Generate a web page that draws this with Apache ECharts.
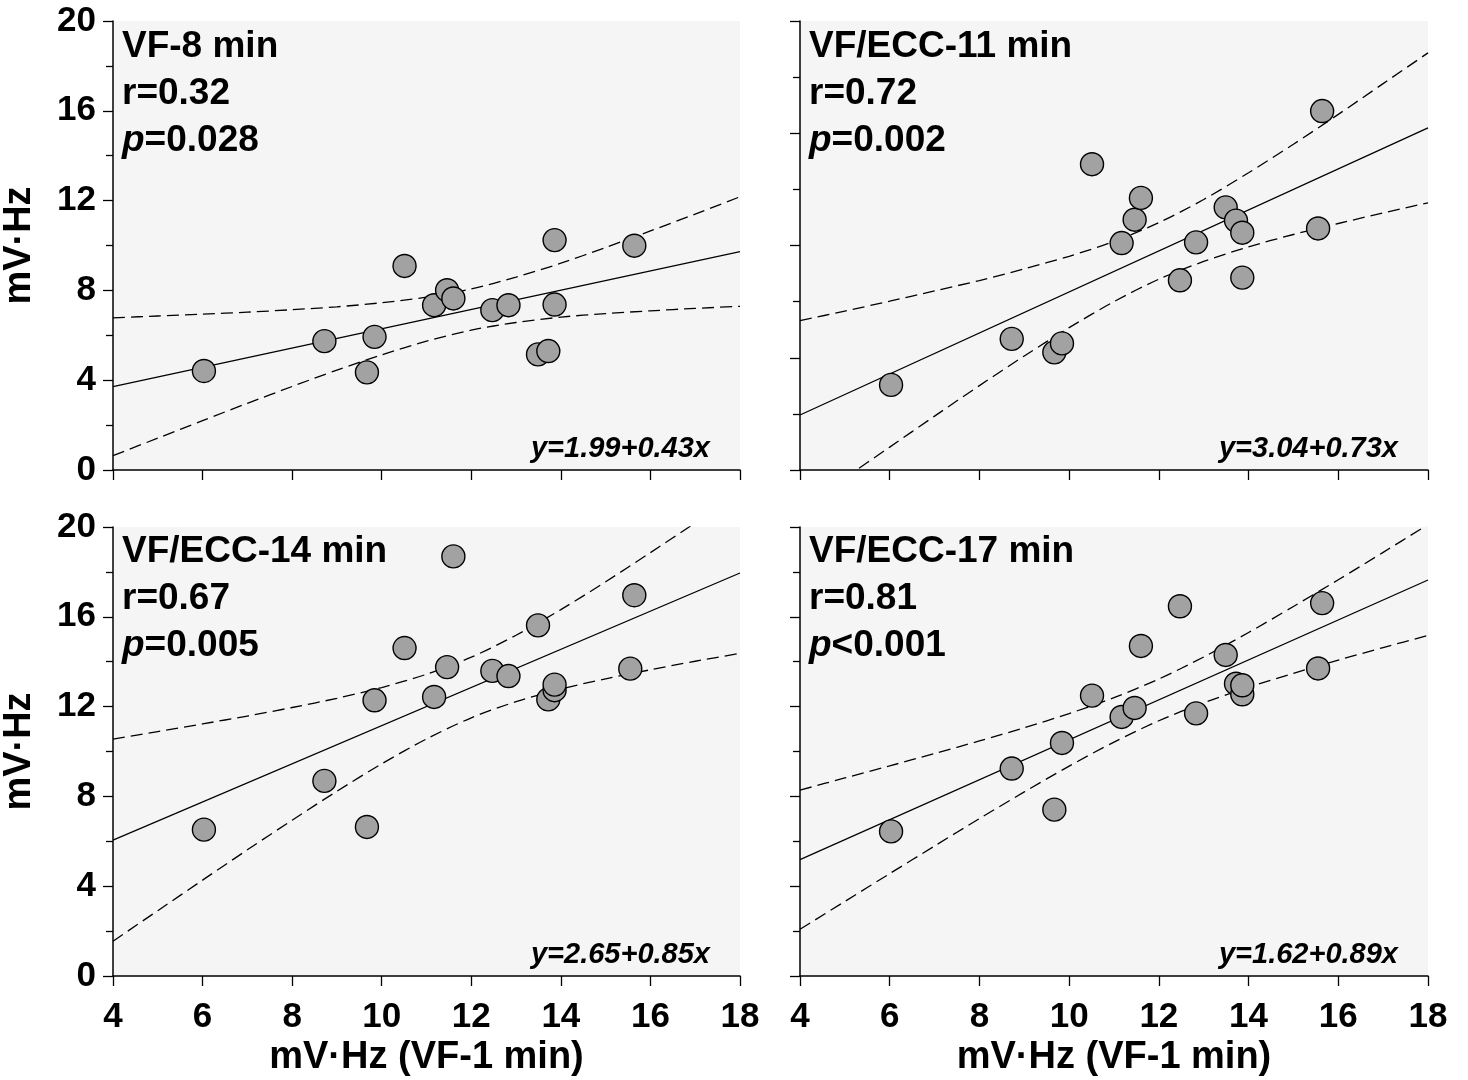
<!DOCTYPE html>
<html>
<head>
<meta charset="utf-8">
<script src="https://cdn.jsdelivr.net/npm/echarts@6/dist/echarts.min.js"></script>
<style>
html,body{margin:0;padding:0;background:#fff;}
#c{width:1468px;height:1080px;}
</style>
</head>
<body>
<div id="c"></div>
<script>
// ---- data ----
const panelTitles = ['VF-8 min', 'VF/ECC-11 min', 'VF/ECC-14 min', 'VF/ECC-17 min'];
const rTexts = ['r=0.32', 'r=0.72', 'r=0.67', 'r=0.81'];
const pOps = ['=', '=', '=', '<'];
const pVals = ['0.028', '0.002', '0.005', '0.001'];
const eqTexts = ['y=1.99+0.43x', 'y=3.04+0.73x', 'y=2.65+0.85x', 'y=1.62+0.89x'];

const xTicks = [4, 6, 8, 10, 12, 14, 16, 18];
const yTicks = [0, 4, 8, 12, 16, 20];

// x = mV·Hz at VF-1 min (same animals in all panels)
const xVF1 = [6.03, 8.72, 9.67, 9.84, 10.51, 11.17, 11.46, 11.60, 12.47, 12.83, 13.49, 13.72, 13.86, 13.86, 15.55, 15.64];
const yVF8 = [4.41, 5.74, 4.35, 5.93, 9.09, 7.34, 8.01, 7.64, 7.12, 7.34, 5.15, 5.30, 10.24, 7.37, null, 9.99];
const yECC11 = [3.79, 5.84, 5.24, 5.64, 13.62, 10.11, 11.15, 12.12, 8.45, 10.14, 11.70, 11.11, 10.57, 8.57, 10.76, 15.99];
const yECC14 = [6.52, 8.69, 6.64, 12.28, 14.61, 12.43, 13.76, 18.69, 13.59, 13.36, 15.62, 12.32, 12.73, 12.98, 13.69, 16.96];
const yECC17 = [6.44, 9.24, 7.41, 10.38, 12.49, 11.54, 11.94, 14.70, 16.47, 11.70, 14.30, 13.02, 12.55, 12.95, 13.70, 16.61];

// regression lines (end points)
const fitX = [4, 18];
const fitVF8 = [3.71, 9.73];
const fitECC11 = [2.45, 15.24];
const fitECC14 = [6.05, 17.95];
const fitECC17 = [5.18, 17.64];

// confidence bands (read along x = 4..18)
const bandX = [4, 5, 6, 7, 8, 9, 10, 11, 12, 13, 14, 15, 16, 17, 18];
const upVF8 = [6.78, 6.86, 6.94, 7.03, 7.14, 7.27, 7.45, 7.70, 8.07, 8.59, 9.21, 9.91, 10.65, 11.40, 12.17];
const loVF8 = [0.64, 1.42, 2.20, 2.97, 3.72, 4.45, 5.13, 5.74, 6.23, 6.57, 6.81, 6.97, 7.09, 7.20, 7.29];
const upECC11 = [6.65, 7.08, 7.52, 7.98, 8.44, 8.96, 9.52, 10.18, 11.02, 12.05, 13.24, 14.51, 15.84, 17.21, 18.58];
const loECC11 = [-1.75, -0.36, 1.02, 2.40, 3.76, 5.08, 6.34, 7.50, 8.50, 9.29, 9.94, 10.49, 10.98, 11.45, 11.90];
const upECC14 = [10.55, 10.89, 11.23, 11.58, 11.96, 12.37, 12.85, 13.44, 14.20, 15.18, 16.32, 17.56, 18.86, 20.18, 21.53];
const loECC14 = [1.55, 2.91, 4.27, 5.62, 6.94, 8.23, 9.45, 10.56, 11.50, 12.22, 12.78, 13.24, 13.64, 14.02, 14.37];
const upECC17 = [8.28, 8.82, 9.36, 9.91, 10.47, 11.06, 11.69, 12.40, 13.23, 14.21, 15.30, 16.46, 17.65, 18.87, 20.11];
const loECC17 = [2.08, 3.32, 4.56, 5.79, 7.01, 8.20, 9.35, 10.42, 11.37, 12.17, 12.86, 13.48, 14.07, 14.63, 15.17];

const xName = 'mV·Hz (VF-1 min)';
const yName = 'mV·Hz';

// ---- chart ----
const FONT = '"Liberation Sans", Arial, Helvetica, sans-serif';
const TICK_FS = 35, NAME_FS = 38, ANNO_FS = 37, EQ_FS = 29;
const panels = [
  {y: yVF8, fit: fitVF8, up: upVF8, lo: loVF8},
  {y: yECC11, fit: fitECC11, up: upECC11, lo: loECC11},
  {y: yECC14, fit: fitECC14, up: upECC14, lo: loECC14},
  {y: yECC17, fit: fitECC17, up: upECC17, lo: loECC17}
];
const gridPos = [
  {left: 113, top: 21, width: 627, height: 449},
  {left: 800, top: 21, width: 628, height: 449},
  {left: 113, top: 527, width: 627, height: 449},
  {left: 800, top: 527, width: 628, height: 449}
];
const zip = (xs, ys) => xs.map((x, i) => [x, ys[i]]).filter(p => p[1] !== null);

const grids = gridPos.map(g => Object.assign({
  show: true, backgroundColor: '#f5f5f5', borderWidth: 0, containLabel: false
}, g));

const xAxes = gridPos.map((g, i) => ({
  type: 'value', gridIndex: i, min: xTicks[0], max: xTicks[xTicks.length - 1], interval: 2,
  axisLine: {show: true, onZero: false, lineStyle: {color: '#000', width: 1.5}},
  axisTick: {show: true, length: 10, lineStyle: {color: '#000', width: 1.3}},
  splitLine: {show: false},
  axisLabel: {show: i >= 2, margin: 24, color: '#000', fontSize: TICK_FS, fontWeight: 'bold', fontFamily: FONT},
  name: i >= 2 ? xName : '', nameLocation: 'middle', nameGap: 63,
  nameTextStyle: {color: '#000', fontSize: NAME_FS, fontWeight: 'bold', fontFamily: FONT}
}));

const yAxes = gridPos.map((g, i) => {
  const left = (i % 2 === 0);
  const step = (i === 1) ? 5 : 4;
  return {
    type: 'value', gridIndex: i, min: yTicks[0], max: yTicks[yTicks.length - 1], interval: step,
    axisLine: {show: true, onZero: false, lineStyle: {color: '#000', width: 1.5}},
    axisTick: {show: true, length: 10, lineStyle: {color: '#000', width: 1.3}},
    minorTick: {show: true, splitNumber: 2, length: 7, lineStyle: {color: '#000', width: 1.3}},
    splitLine: {show: false}, minorSplitLine: {show: false},
    axisLabel: {show: left, margin: 17, color: '#000', fontSize: TICK_FS, fontWeight: 'bold', fontFamily: FONT},
    name: left ? yName : '', nameLocation: 'middle', nameGap: 74,
    nameTextStyle: {color: '#000', fontSize: NAME_FS, fontWeight: 'bold', fontFamily: FONT}
  };
});

const series = [];
panels.forEach((p, i) => {
  const dash = {color: '#000', width: 1.3, type: [12, 6]};
  series.push({type: 'line', xAxisIndex: i, yAxisIndex: i, data: zip(bandX, p.up), smooth: 0.3,
    showSymbol: false, lineStyle: dash, clip: true, silent: true, z: 2});
  series.push({type: 'line', xAxisIndex: i, yAxisIndex: i, data: zip(bandX, p.lo), smooth: 0.3,
    showSymbol: false, lineStyle: dash, clip: true, silent: true, z: 2});
  series.push({type: 'line', xAxisIndex: i, yAxisIndex: i, data: zip(fitX, p.fit),
    showSymbol: false, lineStyle: {color: '#000', width: 1.3}, clip: true, silent: true, z: 2});
  series.push({type: 'scatter', xAxisIndex: i, yAxisIndex: i, data: zip(xVF1, p.y),
    symbol: 'circle', symbolSize: 23,
    itemStyle: {color: '#a2a2a2', borderColor: '#000', borderWidth: 1.4, opacity: 1}, z: 3});
});

const graphics = [];
const annoLeft = [122, 809, 122, 809];
const annoTop = [47, 47, 552, 552];
const eqRight = [710, 1398, 710, 1398];
const eqY = [449, 449, 955, 955];
gridPos.forEach((g, i) => {
  const base = {fill: '#000', fontSize: ANNO_FS, fontWeight: 'bold', fontFamily: FONT, verticalAlign: 'middle', align: 'left'};
  graphics.push({type: 'text', x: annoLeft[i], y: annoTop[i], z: 10,
    style: Object.assign({text: panelTitles[i]}, base)});
  graphics.push({type: 'text', x: annoLeft[i], y: annoTop[i] + 47, z: 10,
    style: Object.assign({text: rTexts[i]}, base)});
  graphics.push({type: 'text', x: annoLeft[i], y: annoTop[i] + 94, z: 10,
    style: Object.assign({}, base, {
      text: '{i|p}{n|' + pOps[i] + pVals[i] + '}',
      rich: {
        i: {fontStyle: 'italic', fontWeight: 'bold', fontSize: ANNO_FS, fontFamily: FONT, fill: '#000'},
        n: {fontWeight: 'bold', fontSize: ANNO_FS, fontFamily: FONT, fill: '#000'}
      }
    })});
  graphics.push({type: 'text', x: eqRight[i], y: eqY[i], z: 10,
    style: {text: eqTexts[i], fill: '#000', fontSize: EQ_FS, fontWeight: 'bold', fontStyle: 'italic',
      fontFamily: FONT, align: 'right', verticalAlign: 'middle'}});
});

const chart = echarts.init(document.getElementById('c'), null, {renderer: 'canvas'});
chart.setOption({
  animation: false,
  backgroundColor: '#ffffff',
  grid: grids,
  xAxis: xAxes,
  yAxis: yAxes,
  series: series,
  graphic: graphics
});
</script>
</body>
</html>
